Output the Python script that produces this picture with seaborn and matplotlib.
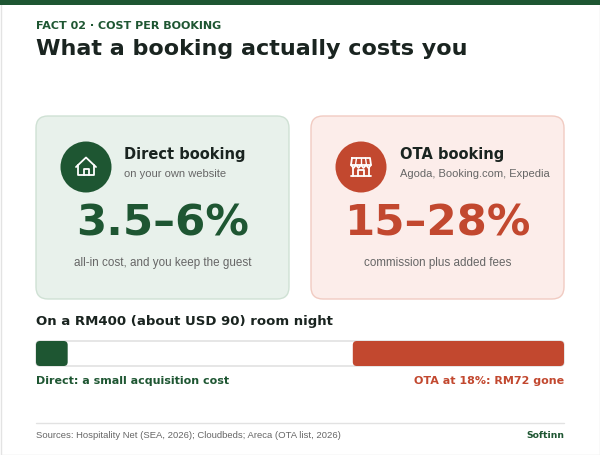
import matplotlib
matplotlib.use("Agg")
import matplotlib.pyplot as plt
from matplotlib.patches import FancyBboxPatch, Circle, Rectangle
from matplotlib.lines import Line2D
import seaborn as sns
import pandas as pd

# ---------------- data ----------------
eyebrow = "FACT 02 · COST PER BOOKING"
title = "What a booking actually costs you"
channels = ["Direct booking", "OTA booking"]
channel_subs = ["on your own website", "Agoda, Booking.com, Expedia"]
cost_ranges = ["3.5–6%", "15–28%"]
cost_notes = ["all-in cost, and you keep the guest", "commission plus added fees"]
bar_heading = "On a RM400 (about USD 90) room night"
bar_labels = ["Direct: a small acquisition cost", "OTA at 18%: RM72 gone"]
bar_shares = [6, 40]          # bar lengths as drawn, % of the track
track_max = 100
sources = "Sources: Hospitality Net (SEA, 2026); Cloudbeds; Areca (OTA list, 2026)"
brand = "Softinn"

# ---------------- style ----------------
sns.set_style("white")
plt.rcParams["font.family"] = ["DejaVu Sans"]

GREEN = "#1e5632"
RED = "#c2482f"
DARK = "#1a2420"
GRAY = "#666666"
SANS2 = ["Liberation Sans", "DejaVu Sans"]

fig = plt.figure(figsize=(6, 4.55), dpi=100)
bg = fig.add_axes([0, 0, 1, 1])
bg.set_xlim(0, 600)
bg.set_ylim(455, 0)
bg.axis("off")

# outer frame and top band
bg.add_patch(Rectangle((0.5, 0.5), 599, 454, facecolor="white", edgecolor="#e3e3e3", lw=1, zorder=0))
bg.add_patch(Rectangle((0, 0), 600, 4.5, facecolor=GREEN, edgecolor="none", zorder=1))

bg.text(36, 25.7, eyebrow, fontsize=8, fontweight="bold", color=GREEN, va="center", ha="left")
bg.text(36, 49.3, title, fontsize=16, fontweight="bold", color=DARK, va="center", ha="left")

# cards
card_fill = ["#e8f1eb", "#fcedea"]
card_edge = ["#cfe1d4", "#f1cbc2"]
accent = [GREEN, RED]
card_x = [36, 311]
for i in range(2):
    x0 = card_x[i]
    bg.add_patch(FancyBboxPatch((x0, 116), 253, 183, boxstyle="round,pad=0,rounding_size=12",
                                facecolor=card_fill[i], edgecolor=card_edge[i], lw=1, zorder=1))
    cx = x0 + 50
    bg.add_patch(Circle((cx, 167), 25.5, facecolor=accent[i], edgecolor="none", zorder=2))
    tx = x0 + 88 if i == 0 else x0 + 89
    bg.text(tx, 155, channels[i], fontsize=10.5, fontweight="bold", color=DARK, va="center", ha="left")
    bg.text(tx, 174, channel_subs[i], fontsize=8, color=GRAY, va="center", ha="left", family=SANS2)
    mid = x0 + 126.5
    bg.text(mid, 223, cost_ranges[i], fontsize=31.3, fontweight="bold", color=accent[i], va="center", ha="center")
    bg.text(mid, 263, cost_notes[i], fontsize=8.4, color=GRAY, va="center", ha="center", family=SANS2)

# house icon
hc = 86
lw_i = 1.3
bg.add_line(Line2D([hc - 10, hc, hc + 10], [167, 157.5, 167], color="white", lw=lw_i, zorder=3,
                   solid_joinstyle="round", solid_capstyle="round"))
bg.add_line(Line2D([hc - 8, hc - 8, hc + 8, hc + 8], [165, 175, 175, 165], color="white", lw=lw_i, zorder=3,
                   solid_joinstyle="round", solid_capstyle="round"))
bg.add_line(Line2D([hc - 2.5, hc - 2.5, hc + 2.5, hc + 2.5], [175, 169, 169, 175], color="white", lw=lw_i,
                   zorder=3, solid_joinstyle="round"))

# store icon
sc = 361
bg.add_line(Line2D([sc - 9, sc + 9, sc + 10, sc - 10, sc - 9], [158, 158, 165, 165, 158], color="white",
                   lw=lw_i, zorder=3, solid_joinstyle="round"))
for k in range(4):
    xa = sc - 10 + k * 5
    bg.add_line(Line2D([xa, xa + 2.5, xa + 5], [165, 168, 165], color="white", lw=lw_i, zorder=3))
for xa in [sc - 5, sc, sc + 5]:
    bg.add_line(Line2D([xa - (xa - sc) * 0.1, xa + (xa - sc) * 0.1], [158, 165], color="white", lw=1.0, zorder=3))
bg.add_line(Line2D([sc - 8, sc - 8], [168, 176], color="white", lw=lw_i, zorder=3))
bg.add_line(Line2D([sc + 8, sc + 8], [168, 176], color="white", lw=lw_i, zorder=3))
bg.add_line(Line2D([sc - 10, sc + 10], [176, 176], color="white", lw=lw_i, zorder=3, solid_capstyle="round"))
bg.add_line(Line2D([sc - 3, sc - 3, sc + 3, sc + 3], [176, 170, 170, 176], color="white", lw=lw_i, zorder=3))

# bar section
bg.text(36, 321, bar_heading, fontsize=9.5, fontweight="bold", color=DARK, va="center", ha="left")

bar_ax = fig.add_axes([36 / 600, (455 - 366) / 455, 528 / 600, 25 / 455])
track_df = pd.DataFrame({"share": [track_max], "row": ["night"]})
direct_df = pd.DataFrame({"share": [bar_shares[0]], "row": ["night"]})
ota_df = pd.DataFrame({"share": [bar_shares[1]], "row": ["night"]})
sns.barplot(data=track_df, x="share", y="row", orient="y", width=1, color="white",
            edgecolor="#dcdcdc", linewidth=1, ax=bar_ax, saturation=1)
sns.barplot(data=direct_df, x="share", y="row", orient="y", width=1, color=GREEN,
            linewidth=0, ax=bar_ax, saturation=1)
sns.barplot(data=ota_df, x="share", y="row", orient="y", width=1, color=RED,
            linewidth=0, ax=bar_ax, saturation=1, left=track_max - bar_shares[1])
bar_ax.set_xlim(0, track_max)
bar_ax.set_ylim(0.5, -0.5)
bar_ax.axis("off")

# round the bar corners (keep seaborn's geometry)
px_per_x = 528 / track_max
px_per_y = 25 / 1.0
rad_px = 4
for p in list(bar_ax.patches):
    if not isinstance(p, Rectangle):
        continue
    x, y, w, h = p.get_x(), p.get_y(), p.get_width(), p.get_height()
    fc, ec, lw = p.get_facecolor(), p.get_edgecolor(), p.get_linewidth()
    z = p.get_zorder()
    p.remove()
    fb = FancyBboxPatch((x, y), w, h, boxstyle=f"round,pad=0,rounding_size={rad_px / px_per_x}",
                        mutation_aspect=px_per_x / px_per_y, facecolor=fc, edgecolor=ec, lw=lw,
                        zorder=z, clip_on=False)
    bar_ax.add_patch(fb)

bg.text(36, 381, bar_labels[0], fontsize=8, fontweight="bold", color=GREEN, va="center", ha="left")
bg.text(564, 381, bar_labels[1], fontsize=8, fontweight="bold", color=RED, va="center", ha="right")

# footer
bg.add_line(Line2D([36, 564], [423, 423], color="#e2e2e2", lw=1))
bg.text(36, 435, sources, fontsize=6.8, color=GRAY, va="center", ha="left", family=SANS2)
bg.text(564, 435, brand, fontsize=6.7, fontweight="bold", color=GREEN, va="center", ha="right")

fig.savefig("out.png", dpi=100)
